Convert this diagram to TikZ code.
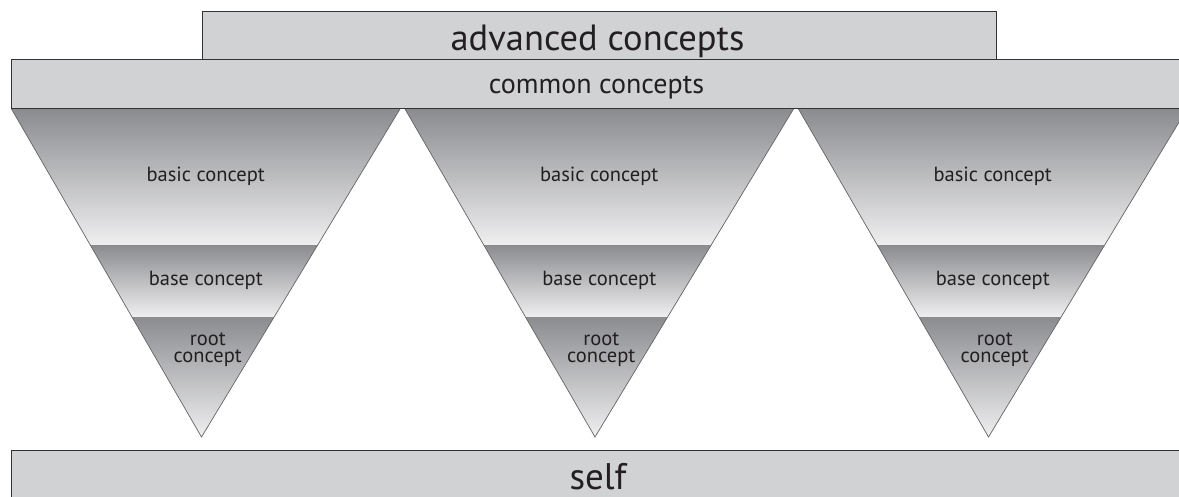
\documentclass[tikz,border=0pt]{standalone}
\usepackage{fontspec}
\setmainfont{PT Sans}
\definecolor{boxfill}{RGB}{209,210,212}
\definecolor{boxline}{RGB}{51,51,51}
\definecolor{banddark}{RGB}{139,140,144}
\definecolor{bandlight}{RGB}{239,239,240}
\definecolor{edgegray}{RGB}{100,100,102}
\definecolor{ink}{RGB}{35,31,32}
\tikzset{
  layerbox/.style={fill=boxfill, draw=boxline, line width=1pt},
  band/.style={top color=banddark, bottom color=bandlight},
  lbl/.style={text=ink, inner sep=0pt, anchor=base},
  small/.style={font=\fontsize{20.5}{16.5}\selectfont},
}
\begin{document}
\begin{tikzpicture}[x=1pt, y=-1pt]
  \useasboundingbox (0,0) rectangle (1179,496);
  \clip (0,0) rectangle (1179,496);
  \fill[white] (0,0) rectangle (1179,496);

  % three inverted triangles, each cut into three shaded bands
  \foreach \L [count=\i] in {11.5, 405, 798.5} {
    \pgfmathsetmacro{\R}{\L+388.5}
    \pgfmathsetmacro{\A}{\L+190}
    \pgfmathsetmacro{\C}{\L+194.25}
    \begin{scope}
      \clip (\L,109) -- (\R,109) -- (\A,437) -- cycle;
      \shade[band] (\L-5,109) rectangle (\R+5,245);
      \shade[band] (\L-5,245) rectangle (\R+5,317);
      \shade[band] (\L-5,317) rectangle (\R+5,437);
    \end{scope}
    \draw[edgegray, line width=0.7pt] (\L,109) -- (\A,437) -- (\R,109);
    \node[lbl, small] (basic\i) at (\C,181) {basic concept};
    \node[lbl, small] (base\i) at (\C,285) {base concept};
    \node[lbl, small, align=center, anchor=north] (root\i) at (\C+2,333) {root\\concept};
  }

  % horizontal layers
  \draw[layerbox] (202,11) rectangle (996,59);
  \draw[layerbox] (11.5,59) rectangle (1200,108.5);
  \draw[layerbox] (11.5,450) rectangle (1200,520);

  \node[lbl, font=\fontsize{36.5}{36.5}\selectfont] (advanced) at (597.5,50) {advanced concepts};
  \node[lbl, font=\fontsize{28}{28}\selectfont] (common) at (596.5,93) {common concepts};
  \node[lbl, font=\fontsize{37}{37}\selectfont] (self) at (598,489) {self};
\end{tikzpicture}
\end{document}
